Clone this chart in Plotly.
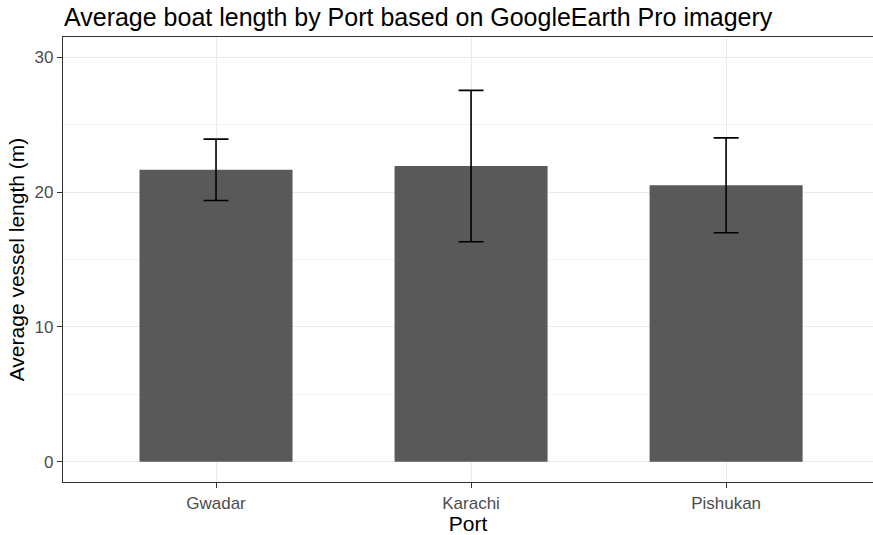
import plotly.graph_objects as go

# Mean boat length per port with standard deviation
ports = ["Gwadar", "Karachi", "Pishukan"]
mean_length = [21.65, 21.93, 20.50]
sd_length = [2.28, 5.61, 3.52]

y_ticks = [0, 10, 20, 30]
y_minor = [5, 15, 25]

FONT = "Liberation Sans, Arial, sans-serif"

fig = go.Figure(
    go.Bar(
        x=ports,
        y=mean_length,
        width=0.6,
        marker=dict(color="#595959", line=dict(width=0)),
        error_y=dict(
            type="data",
            array=sd_length,
            visible=True,
            color="black",
            thickness=1.6,
            width=12.5,
        ),
        hoverinfo="skip",
    )
)

fig.update_layout(
    width=873,
    height=535,
    margin=dict(l=63, r=0, t=37, b=53),
    plot_bgcolor="white",
    paper_bgcolor="white",
    showlegend=False,
    font=dict(family=FONT, color="black"),
    title=dict(
        text="Average boat length by Port based on GoogleEarth Pro imagery",
        x=64 / 873,
        xanchor="left",
        xref="container",
        y=1 - 17 / 535,
        yanchor="middle",
        yref="container",
        font=dict(family=FONT, size=25, color="black"),
    ),
    xaxis=dict(
        range=[-0.6, 2.576],
        showgrid=True,
        gridcolor="#EBEBEB",
        gridwidth=1,
        showline=True,
        mirror=True,
        linecolor="#333333",
        linewidth=1.4,
        ticks="outside",
        ticklen=5,
        tickcolor="#333333",
        tickwidth=1,
        tickfont=dict(family=FONT, size=17, color="#4D4D4D"),
        title=dict(text="Port", font=dict(family=FONT, size=21, color="black"), standoff=4),
        zeroline=False,
    ),
    yaxis=dict(
        range=[-1.5, 31.5],
        tickvals=y_ticks,
        ticktext=[str(v) for v in y_ticks],
        showgrid=True,
        gridcolor="#EBEBEB",
        gridwidth=1,
        minor=dict(tickvals=y_minor, showgrid=True, gridcolor="#F2F2F2", gridwidth=1, ticks=""),
        showline=True,
        linecolor="#333333",
        linewidth=1.4,
        ticks="outside",
        ticklen=5,
        tickcolor="#333333",
        tickwidth=1,
        tickfont=dict(family=FONT, size=17, color="#4D4D4D"),
        title=dict(text="Average vessel length (m)", font=dict(family=FONT, size=21, color="black"), standoff=4),
        zeroline=False,
    ),
)

fig.write_html("out.html")
